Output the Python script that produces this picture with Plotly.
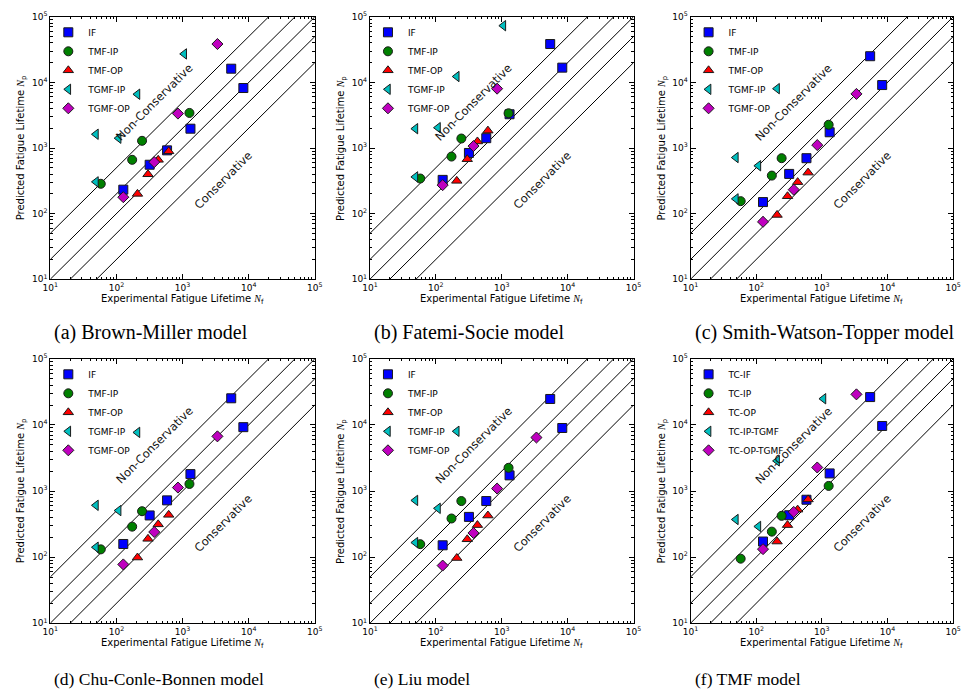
import plotly.graph_objects as go

# ---------------- data ----------------
# experimental lifetimes (shared by all panels)
x_if = [127, 318, 583, 1315, 5440, 8300]
x_tmf_ip = [58, 173, 244, 1270]
x_tmf_op = [208, 300, 428, 617]
x_tgmf_ip = [49, 49, 108, 208, 1059]
x_tgmf_op = [127, 373, 851, 3365]

# predicted lifetimes per model
bm_if = [232, 556, 922, 1972, 16200, 8220]
bm_tmf_ip = [285, 661, 1288, 3427]
bm_tmf_op = [200, 398, 661, 891]
bm_tgmf_ip = [1622, 305, 1413, 6607, 27200]
bm_tgmf_op = [178, 610, 3350, 38500]

fs_if = [327, 841, 1413, 3273, 38500, 16800]
fs_tmf_ip = [343, 741, 1396, 3388]
fs_tmf_op = [316, 676, 1259, 1841]
fs_tgmf_ip = [1972, 363, 2042, 12300, 73300]
fs_tgmf_op = [272, 1072, 8035, None]

swt_if = [150, 403, 700, 1738, 25100, 9120]
swt_tmf_ip = [155, 380, 700, 2265]
swt_tmf_op = [95.5, 184, 302, 422]
swt_tgmf_ip = [716, 168, 537, 8035, None]
swt_tgmf_op = [75, 232, 1109, 6683]

ccb_if = [158, 427, 722, 1803, 25300, 9250]
ccb_tmf_ip = [131, 289, 495, 1279]
ccb_tmf_op = [98.6, 189, 313, 436]
ccb_tgmf_ip = [608, 141, 506, 7710, None]
ccb_tgmf_op = [77.5, 240, 1128, 6718]

liu_if = [151, 406, 705, 1725, 24700, 8990]
liu_tmf_ip = [157, 384, 705, 2245]
liu_tmf_op = [96.9, 186, 305, 426]
liu_tgmf_ip = [721, 166, 547, 8020, None]
liu_tgmf_op = [74.5, 232, 1090, 6450]

tmf_if = [172, 430, 738, 1846, 26400, 9640]
tmf_ip = [94.7, 243, 421, 1194]
tmf_op = [172, 305, 523, 746]
tmf_ip_tgmf = [371, None, 291, 2857, 24900]
tmf_op_tgmf = [132, 483, 2270, 29000]

series_names = ["IF", "TMF-IP", "TMF-OP", "TGMF-IP", "TGMF-OP"]
series_names_f = ["TC-IF", "TC-IP", "TC-OP", "TC-IP-TGMF", "TC-OP-TGMF"]
captions = ["(a) Brown-Miller model", "(b) Fatemi-Socie model", "(c) Smith-Watson-Topper model",
            "(d) Chu-Conle-Bonnen model", "(e) Liu model", "(f) TMF model"]
band_ratios = [5, 2, 1, 0.5, 0.2]
axis_limits = [10, 1e5]
tick_vals = [10, 100, 1000, 10000, 100000]
tick_text = ["10<sup>1</sup>", "10<sup>2</sup>", "10<sup>3</sup>", "10<sup>4</sup>", "10<sup>5</sup>"]

panels = [
    (series_names, [bm_if, bm_tmf_ip, bm_tmf_op, bm_tgmf_ip, bm_tgmf_op]),
    (series_names, [fs_if, fs_tmf_ip, fs_tmf_op, fs_tgmf_ip, fs_tgmf_op]),
    (series_names, [swt_if, swt_tmf_ip, swt_tmf_op, swt_tgmf_ip, swt_tgmf_op]),
    (series_names, [ccb_if, ccb_tmf_ip, ccb_tmf_op, ccb_tgmf_ip, ccb_tgmf_op]),
    (series_names, [liu_if, liu_tmf_ip, liu_tmf_op, liu_tgmf_ip, liu_tgmf_op]),
    (series_names_f, [tmf_if, tmf_ip, tmf_op, tmf_ip_tgmf, tmf_op_tgmf]),
]
x_sets = [x_if, x_tmf_ip, x_tmf_op, x_tgmf_ip, x_tgmf_op]

# ---------------- style ----------------
W, H = 970, 697
colors = ["#0000ff", "#008000", "#ff0000", "#00bfbf", "#bf00bf"]
symbols = ["square", "circle", "triangle-up", "triangle-left", "diamond"]
sizes = [9, 9, 9, 9, 8.5]
SANS = "DejaVu Sans"
SERIF = "Liberation Serif"

x_px = [(43, 312), (368, 636), (694, 961)]
y_px = [(10, 277), (358, 627)]
caption_y = [331, 684]
caption_size = [20, 17.5]

fig = go.Figure()
layout = dict(
    width=W, height=H, margin=dict(l=0, r=0, t=0, b=0),
    paper_bgcolor="white", plot_bgcolor="white",
    font=dict(family=SANS, size=10, color="black"),
    annotations=[],
)

for i, (names, ys) in enumerate(panels):
    r, c = divmod(i, 3)
    sfx = "" if i == 0 else str(i + 1)
    xa, ya = "x" + sfx, "y" + sfx
    leg = "legend" + sfx

    # diagonal factor bands
    for k in band_ratios:
        fig.add_trace(go.Scatter(
            x=axis_limits, y=[k * v for v in axis_limits], mode="lines",
            line=dict(color="black", width=1), showlegend=False, hoverinfo="skip",
            xaxis=xa, yaxis=ya))
    # data
    for j in range(5):
        fig.add_trace(go.Scatter(
            x=x_sets[j], y=ys[j], mode="markers", name=names[j],
            marker=dict(symbol=symbols[j], size=sizes[j], color=colors[j],
                        line=dict(color="#1a1a1a", width=1)),
            xaxis=xa, yaxis=ya, legend=leg, cliponaxis=False))

    xd = [x_px[c][0] / W, x_px[c][1] / W]
    yd = [1 - y_px[r][1] / H, 1 - y_px[r][0] / H]
    common = dict(
        type="log", range=[1, 5], showgrid=False, zeroline=False,
        showline=True, linecolor="black", linewidth=1, mirror="ticks",
        ticks="inside", ticklen=5, tickwidth=1, tickcolor="black",
        tickmode="array", tickvals=tick_vals, ticktext=tick_text,
        tickfont=dict(family=SANS, size=9, color="black"),
        minor=dict(ticks="inside", ticklen=2.5, tickwidth=1, tickcolor="black",
                   dtick="D1", showgrid=False),
    )
    layout["xaxis" + sfx] = dict(common, domain=xd, anchor=ya)
    layout["yaxis" + sfx] = dict(common, domain=yd, anchor=xa)

    layout[leg] = dict(
        x=(x_px[c][0] - 2) / W, y=yd[1] - 1 / H, xanchor="left", yanchor="top",
        bgcolor="rgba(0,0,0,0)", borderwidth=0,
        font=dict(family=SANS, size=9, color="black"),
        tracegroupgap=0,
    )

    anns = layout["annotations"]
    anns.append(dict(text="Non-Conservative", xref=xa, yref=ya, x=2.575, y=3.70,
                     textangle=-45, showarrow=False,
                     font=dict(family=SANS, size=11.5, color="#111")))
    anns.append(dict(text="Conservative", xref=xa, yref=ya, x=3.615, y=2.52,
                     textangle=-45, showarrow=False,
                     font=dict(family=SANS, size=11.5, color="#111")))
    anns.append(dict(
        text="Predicted Fatigue Lifetime <span style='font-family:Liberation Serif'><i>N</i></span><sub>p</sub>",
        xref=xa + " domain", yref=ya + " domain", x=0, y=0.5, xshift=-29,
        textangle=-90, showarrow=False, xanchor="center", yanchor="middle",
        font=dict(family=SANS, size=10, color="black")))
    anns.append(dict(
        text="Experimental Fatigue Lifetime <span style='font-family:Liberation Serif'><i>N</i></span><sub>f</sub>",
        xref=xa + " domain", yref=ya + " domain", x=0.5, y=0, yshift=-20,
        showarrow=False, xanchor="center", yanchor="middle",
        font=dict(family=SANS, size=10, color="black")))
    anns.append(dict(
        text=captions[i], xref="paper", yref="paper",
        x=(x_px[c][0] + 2) / W, y=1 - caption_y[r] / H,
        xanchor="left", yanchor="middle", showarrow=False,
        font=dict(family=SERIF, size=caption_size[r], color="black")))

fig.update_layout(**layout)
fig.write_html("out.html")
